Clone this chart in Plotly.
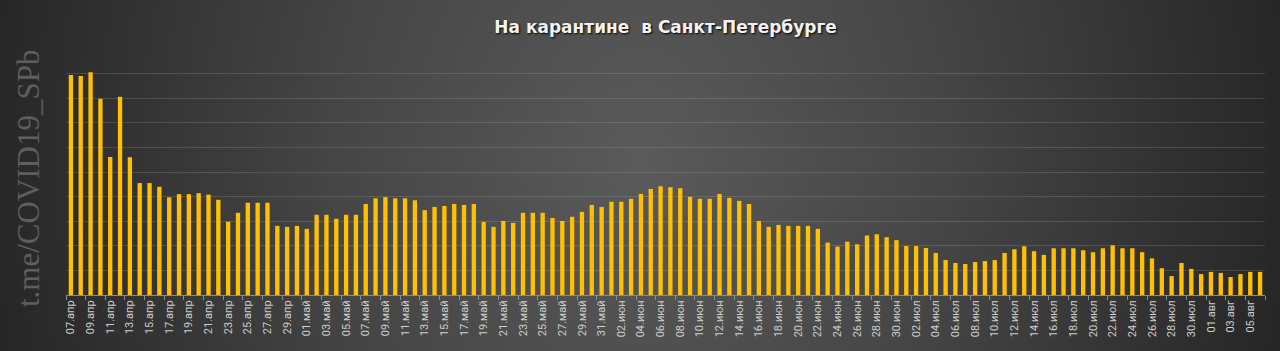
import base64
import plotly.graph_objects as go

# ---- data ----
month_names = ["апр", "май", "июн", "июл", "авг"]
month_first_day = [7, 1, 1, 1, 1]
month_last_day = [30, 31, 30, 31, 6]

apr = [8940, 8900, 9050, 7980, 5610, 8060, 5600, 4550, 4550, 4400, 3970, 4100,
       4100, 4140, 4080, 3870, 2980, 3340, 3750, 3750, 3750, 2810, 2770, 2810]
may = [2690, 3260, 3260, 3100, 3260, 3260, 3700, 3930, 3980, 3930, 3930, 3850,
       3450, 3580, 3620, 3700, 3660, 3700, 2970, 2770, 3010, 2930, 3340, 3340,
       3340, 3130, 3010, 3180, 3380, 3660, 3580]
jun = [3790, 3790, 3910, 4110, 4310, 4420, 4380, 4340, 3990, 3910, 3910, 4110,
       3950, 3830, 3700, 3010, 2770, 2850, 2810, 2810, 2810, 2690, 2130, 1970,
       2170, 2060, 2420, 2470, 2350, 2230]
jul = [1990, 1990, 1910, 1710, 1420, 1300, 1260, 1340, 1380, 1420, 1710, 1860,
       1980, 1780, 1630, 1900, 1900, 1900, 1820, 1740, 1900, 2020, 1900, 1900,
       1740, 1490, 1090, 770, 1300, 1060, 850]
aug = [940, 900, 730, 850, 940, 940]

title_text = "На карантине  в Санкт-Петербурге"
watermark_text = "t.me/COVID19_SPb"

# ---- build categories ----
categories = []
for name, d0, d1 in zip(month_names, month_first_day, month_last_day):
    for d in range(d0, d1 + 1):
        categories.append(f"{d:02d}.{name}")
values = apr + may + jun + jul + aug
n = len(categories)
positions = list(range(n))
tick_positions = positions[::2]
tick_labels = categories[::2]

W, H = 1280, 351
L, R, T, B = 66, 15, 49, 56
pw, ph = W - L - R, H - T - B

svg = f'''<svg xmlns="http://www.w3.org/2000/svg" width="{W}" height="{H}" viewBox="0 0 {W} {H}">
<defs><radialGradient id="g" gradientUnits="userSpaceOnUse" cx="640" cy="160" r="690"
 gradientTransform="translate(640 160) scale(1 1.25) translate(-640 -160)">
<stop offset="0" stop-color="#5a5a5a"/><stop offset="0.45" stop-color="#454545"/>
<stop offset="1" stop-color="#232323"/></radialGradient></defs>
<rect width="{W}" height="{H}" fill="url(#g)"/></svg>'''
bg_src = "data:image/svg+xml;base64," + base64.b64encode(svg.encode()).decode()

fig = go.Figure()
fig.add_trace(go.Bar(x=positions, y=values, customdata=categories,
                     marker=dict(color="#FFC000", line=dict(width=0)),
                     width=0.44, showlegend=False,
                     hovertemplate="%{customdata}: %{y}<extra></extra>"))

fig.update_layout(
    width=W, height=H,
    margin=dict(l=L, r=R, t=T, b=B),
    paper_bgcolor="#333333",
    plot_bgcolor="rgba(0,0,0,0)",
    images=[dict(source=bg_src, xref="paper", yref="paper",
                 x=-L / pw, y=1 + T / ph, sizex=W / pw, sizey=H / ph,
                 xanchor="left", yanchor="top", sizing="stretch", layer="below")],
    title=dict(text=title_text, x=0.52, xanchor="center", y=1 - 27 / H, yanchor="middle",
               font=dict(family="DejaVu Sans", size=17, color="#f2f2f2", weight="bold",
                         shadow="1px 1px 2px #000000")),
    xaxis=dict(type="linear", range=[-0.5, n - 0.5], tickmode="array",
               tickvals=tick_positions, ticktext=tick_labels, tickangle=-90,
               ticks="", showline=True, linecolor="#8c8c8c", linewidth=1,
               showgrid=False, zeroline=False,
               tickfont=dict(family="Roboto", size=11, color="#cfcfcf"),
               minor=dict(tickmode="linear", tick0=-0.5, dtick=2, ticks="outside",
                          ticklen=4, tickcolor="#8c8c8c", tickwidth=1, showgrid=False)),
    yaxis=dict(range=[0, 10000], dtick=1000, showticklabels=False, ticks="",
               gridcolor="rgba(255,255,255,0.13)", gridwidth=1, zeroline=False, showline=False),
    annotations=[dict(text=watermark_text, textangle=-90, xref="paper", yref="paper",
                      x=(28 - L) / pw, y=(L and (T + ph - 178)) / ph, xanchor="center", yanchor="middle",
                      showarrow=False,
                      font=dict(family="Liberation Serif", size=31, color="#5e5e5e"))],
)

fig.write_html("out.html")
